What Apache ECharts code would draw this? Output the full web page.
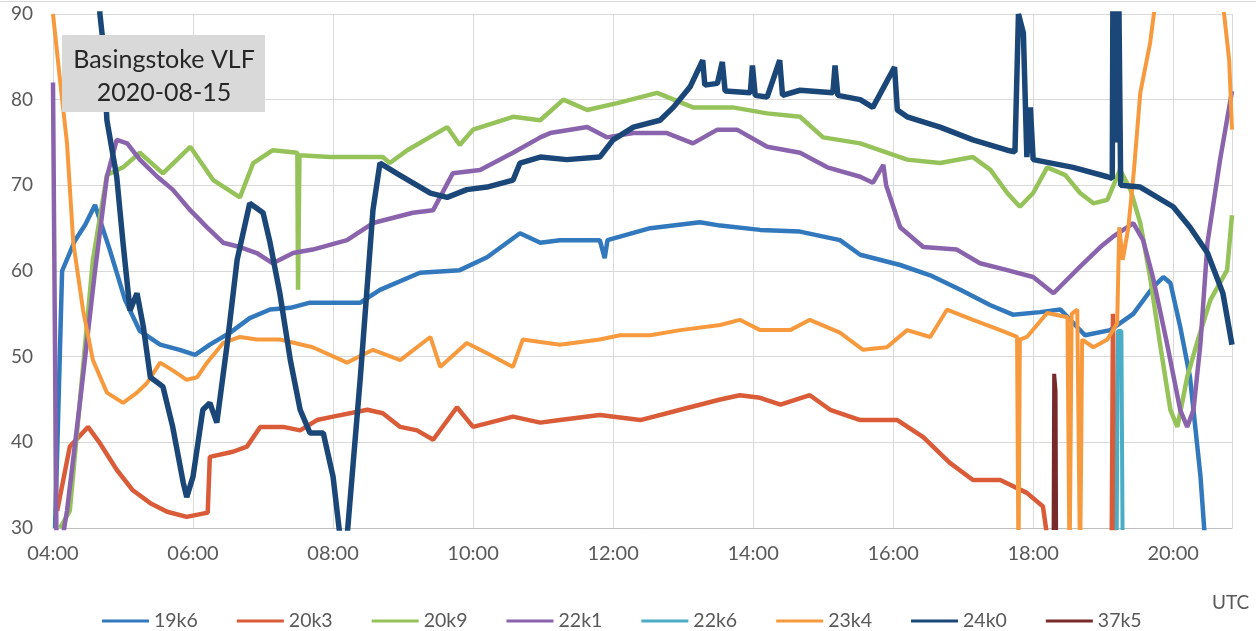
<!DOCTYPE html>
<html>
<head>
<meta charset="utf-8">
<script src="https://cdn.jsdelivr.net/npm/echarts@6/dist/echarts.min.js"></script>
<style>html,body{margin:0;padding:0;background:#fff;}#c{width:1256px;height:631px;}</style>
</head>
<body>
<div id="c"></div>
<script>
// time in hours UTC, value in arbitrary signal units
const seriesNames = ['19k6','20k3','20k9','22k1','22k6','23k4','24k0','37k5'];
const yTicks = [30,40,50,60,70,80,90];
const xTickHours = [4,6,8,10,12,14,16,18,20];

const s19k6 = [[4.03,30],[4.13,60],[4.31,63.5],[4.46,65.4],[4.6,67.7],[4.81,62.5],[5.03,56.6],[5.24,53],[5.53,51.4],[5.81,50.8],[6.03,50.2],[6.24,51.4],[6.53,52.8],[6.81,54.5],[7.1,55.5],[7.39,55.7],[7.67,56.3],[8.39,56.3],[8.67,57.8],[9.24,59.8],[9.81,60.1],[10.2,61.6],[10.67,64.4],[10.96,63.3],[11.24,63.6],[11.81,63.6],[11.88,61.5],[11.92,63.6],[12.53,65],[13.24,65.7],[13.53,65.3],[14.1,64.8],[14.67,64.6],[15.24,63.6],[15.53,61.9],[16.1,60.7],[16.53,59.5],[16.96,57.8],[17.39,56],[17.71,54.9],[18.1,55.2],[18.39,55.5],[18.74,52.5],[19.1,53.1],[19.43,55],[19.71,58.1],[19.86,59.3],[19.96,58.6],[20.1,53.5],[20.24,47.6],[20.39,36],[20.46,28]];

const s20k3 = [[4.06,32],[4.24,39.5],[4.5,41.8],[4.67,39.9],[4.91,36.8],[5.14,34.4],[5.39,32.9],[5.63,31.9],[5.91,31.3],[6.21,31.8],[6.24,38.3],[6.57,38.9],[6.77,39.5],[6.96,41.8],[7.29,41.8],[7.53,41.4],[7.77,42.6],[8.0,43],[8.49,43.8],[8.71,43.4],[8.96,41.8],[9.2,41.4],[9.43,40.3],[9.77,44.1],[10.0,41.8],[10.57,43],[10.96,42.3],[11.24,42.6],[11.81,43.2],[12.39,42.6],[12.96,43.8],[13.53,45],[13.81,45.5],[14.1,45.2],[14.39,44.4],[14.81,45.5],[15.1,43.8],[15.53,42.6],[16.06,42.6],[16.43,40.6],[16.81,37.6],[17.14,35.6],[17.53,35.6],[17.91,34.1],[18.14,32.5],[18.2,29],[19.12,25],[19.14,55],[19.17,25]];

const s20k9 = [[4.1,30],[4.24,32],[4.57,61.3],[4.77,71.2],[5.0,72.1],[5.24,73.8],[5.57,71.4],[5.96,74.5],[6.29,70.6],[6.67,68.6],[6.86,72.6],[7.14,74.1],[7.49,73.8],[7.5,57.8],[7.52,73.5],[7.96,73.3],[8.71,73.3],[8.81,72.6],[9.06,74.1],[9.63,76.8],[9.81,74.7],[10.0,76.5],[10.57,78],[10.96,77.6],[11.29,80],[11.63,78.8],[12.06,79.6],[12.63,80.8],[13.14,79.1],[13.71,79.1],[14.2,78.4],[14.67,78],[15.0,75.6],[15.53,74.9],[16.2,73],[16.67,72.6],[17.14,73.3],[17.39,71.8],[17.63,69.1],[17.81,67.5],[18.0,69.1],[18.2,72.1],[18.46,71.2],[18.67,69.1],[18.86,67.9],[19.06,68.3],[19.24,71.8],[19.39,69.5],[19.53,65.6],[19.67,59.3],[19.81,51.6],[19.96,43.8],[20.06,41.8],[20.2,47.6],[20.34,51.6],[20.53,56.6],[20.77,60.1],[20.84,66.5]];

const s22k1 = [[4.0,82],[4.05,28],[4.12,28],[4.2,32],[4.39,45],[4.6,60],[4.77,71],[4.91,75.3],[5.06,74.9],[5.24,73],[5.49,71],[5.71,69.5],[5.96,67.1],[6.2,65.1],[6.43,63.3],[6.67,62.8],[6.91,62.1],[7.14,60.9],[7.43,62.1],[7.71,62.5],[8.2,63.6],[8.57,65.6],[9.14,66.8],[9.43,67.1],[9.71,71.4],[10.1,71.8],[10.57,73.8],[10.96,75.6],[11.1,76.1],[11.63,76.8],[11.91,75.6],[12.29,76.1],[12.77,76.1],[13.14,74.9],[13.49,76.5],[13.77,76.5],[14.2,74.5],[14.67,73.8],[15.06,72.1],[15.53,71],[15.71,70.3],[15.86,72.4],[15.9,70],[16.1,65.1],[16.43,62.8],[16.91,62.5],[17.24,60.9],[17.63,60.1],[18.0,59.3],[18.29,57.4],[18.67,60.5],[18.96,62.8],[19.14,64],[19.34,65.1],[19.43,65.6],[19.57,63.6],[19.71,59.3],[19.91,51.6],[20.1,43.8],[20.2,41.8],[20.29,43.8],[20.39,51.6],[20.49,63.3],[20.67,73],[20.84,81]];

const s22k6 = [[19.19,25],[19.21,53],[19.26,53],[19.28,25]];

const s23k4 = [[4.0,90],[4.1,82.3],[4.2,74.9],[4.29,63.3],[4.43,55.4],[4.57,49.6],[4.77,45.8],[5.0,44.6],[5.2,45.8],[5.34,46.9],[5.53,49.3],[5.71,48.4],[5.91,47.3],[6.06,47.6],[6.2,49.3],[6.43,51.6],[6.67,52.3],[6.91,52],[7.24,52],[7.71,51.1],[8.2,49.3],[8.57,50.8],[8.96,49.6],[9.39,52.3],[9.53,48.8],[9.91,51.6],[10.2,50.4],[10.57,48.8],[10.71,52],[11.24,51.4],[11.81,52],[12.1,52.5],[12.53,52.5],[12.96,53.1],[13.53,53.7],[13.81,54.3],[14.1,53.1],[14.53,53.1],[14.81,54.3],[15.24,52.8],[15.57,50.8],[15.91,51.1],[16.2,53.1],[16.53,52.3],[16.77,55.5],[17.14,54.3],[17.53,53.1],[17.77,52.3],[17.79,25],[17.81,52],[17.91,52.3],[18.2,55.1],[18.49,54.6],[18.52,25],[18.55,55],[18.63,55.5],[18.67,25],[18.7,52],[18.86,51.1],[19.06,52],[19.2,53.9],[19.23,65.1],[19.28,61.3],[19.36,65.1],[19.44,71.8],[19.53,80.8],[19.67,86.6],[19.74,91],[20.7,95],[20.72,90.5],[20.8,84.6],[20.84,76.5]];

const s24k0 = [[4.0,95],[4.66,95],[4.67,90],[4.71,87],[4.77,77.6],[4.91,71],[5.0,63.3],[5.1,55.4],[5.2,57.4],[5.29,53.5],[5.39,47.6],[5.57,46.5],[5.71,41.8],[5.86,35.3],[5.91,33.6],[6.0,36],[6.14,43.8],[6.24,44.6],[6.34,42.3],[6.49,51.6],[6.63,61.3],[6.81,67.9],[7.0,66.8],[7.1,63.3],[7.24,57.4],[7.39,49.6],[7.53,43.8],[7.67,41.1],[7.86,41.1],[8.0,36],[8.1,29],[8.2,29],[8.39,47.6],[8.57,67.1],[8.67,72.6],[8.91,71.4],[9.14,70.3],[9.39,69.1],[9.63,68.6],[9.91,69.5],[10.2,69.8],[10.57,70.6],[10.67,72.6],[10.96,73.3],[11.34,73],[11.81,73.3],[12.0,75.3],[12.29,76.8],[12.67,77.6],[12.86,79.1],[13.1,81.5],[13.28,84.6],[13.31,81.7],[13.49,81.9],[13.56,84.4],[13.6,81],[13.96,80.8],[13.99,84],[14.03,80.5],[14.2,80.3],[14.38,84.6],[14.42,80.5],[14.67,81.1],[15.14,80.8],[15.17,84],[15.21,80.5],[15.53,80],[15.71,79.1],[16.02,83.8],[16.06,78.8],[16.2,78],[16.67,76.8],[17.14,75.3],[17.63,74.1],[17.74,73.9],[17.79,90],[17.86,87.8],[17.91,73.3],[17.96,79.1],[18.0,73],[18.57,72.1],[19.06,71],[19.13,70.8],[19.14,95],[19.16,75],[19.18,95],[19.2,75],[19.22,95],[19.25,70],[19.53,69.8],[20.0,67.5],[20.24,65.1],[20.49,62.1],[20.71,57.4],[20.84,51.4]];

const s37k5 = [[18.29,25],[18.3,48],[18.32,46],[18.33,25]];

const seriesData = [s19k6,s20k3,s20k9,s22k1,s22k6,s23k4,s24k0,s37k5];
const colors = ['#3278bd','#d95b38','#96c25a','#8a63ad','#4bacc6','#f79a3e','#1b4778','#782a2a'];
const widths = [4.5,4.5,4.5,4.5,4,4,5.5,4];

const chart = echarts.init(document.getElementById('c'));
const FONT = 'Lato';
chart.setOption({
  animation:false,
  backgroundColor:'#ffffff',
  textStyle:{fontFamily:FONT},
  grid:{left:53,right:24,top:14,bottom:103,containLabel:false},
  xAxis:{type:'value',min:xTickHours[0],max:20.84,interval:2,
    axisLine:{show:true,lineStyle:{color:'#bfbfbf',width:1}},
    axisTick:{show:false},
    splitLine:{show:true,lineStyle:{color:'#d9d9d9',width:1}},
    axisLabel:{color:'#595959',fontSize:20,fontFamily:FONT,margin:16,showMaxLabel:false,
      formatter:v=> xTickHours.indexOf(v)>=0 ? ((v<10?'0':'')+v+':00') : ''}},
  yAxis:{type:'value',min:yTicks[0],max:yTicks[yTicks.length-1],interval:10,
    axisLine:{show:true,lineStyle:{color:'#d9d9d9'}},
    axisTick:{show:false},
    splitLine:{show:true,lineStyle:{color:'#d9d9d9',width:1}},
    axisLabel:{color:'#595959',fontSize:19,fontFamily:FONT,margin:20}},
  legend:{show:true,top:606,left:97,itemWidth:47,itemHeight:14,itemGap:39,
    icon:'path://M0,6L47,6L47,9L0,9Z',
    textStyle:{color:'#595959',fontSize:19.5,fontFamily:FONT},
    data:seriesNames},
  graphic:[
    {type:'line',z:100,shape:{x1:0,y1:1.5,x2:1256,y2:1.5},style:{stroke:'#d9d9d9',lineWidth:1}},
    {type:'rect',z:100,shape:{x:62,y:35,width:203,height:77},style:{fill:'#d9d9d9'}},
    {type:'text',z:101,x:164,y:47,style:{text:'Basingstoke VLF',fill:'#262626',font:'25px Lato',textAlign:'center',textVerticalAlign:'top'}},
    {type:'text',z:101,x:164,y:80,style:{text:'2020-08-15',fill:'#262626',font:'25px Lato',textAlign:'center',textVerticalAlign:'top'}},
    {type:'text',z:101,x:1212,y:593,style:{text:'UTC',fill:'#595959',font:'19px Lato',textVerticalAlign:'top'}}
  ],
  series: seriesNames.map((n,i)=>({
    name:n,type:'line',data:seriesData[i],symbol:'none',clip:true,
    lineStyle:{color:colors[i],width:widths[i]},itemStyle:{color:colors[i]},
    emphasis:{disabled:true}
  }))
});
</script>
</body>
</html>
